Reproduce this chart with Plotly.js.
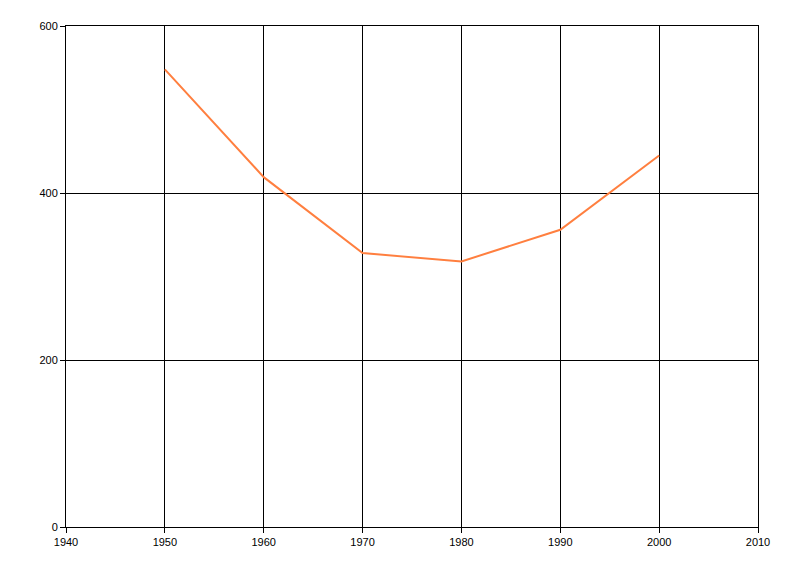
<!DOCTYPE html>
<html>
<head>
<meta charset="utf-8">
<script src="https://cdn.plot.ly/plotly-3.0.1.min.js"></script>
<style>html,body{margin:0;padding:0;background:#fff;}#chart{width:800px;height:576px;}</style>
</head>
<body>
<div id="chart"></div>
<script>
var years = [1950, 1960, 1970, 1980, 1990, 2000];
var values = [548, 419, 328, 318, 356, 445];
var xTicks = [1940, 1950, 1960, 1970, 1980, 1990, 2000, 2010];
var yTicks = [0, 200, 400, 600];

var trace = {
  x: years,
  y: values,
  type: 'scatter',
  mode: 'lines',
  line: {color: '#FF7F3F', width: 2},
  hoverinfo: 'x+y'
};

var layout = {
  width: 800,
  height: 576,
  margin: {l: 66, r: 42, t: 26, b: 49},
  paper_bgcolor: '#fff',
  plot_bgcolor: '#fff',
  showlegend: false,
  font: {family: 'Liberation Sans, Arial, sans-serif', size: 11, color: '#000'},
  xaxis: {
    range: [1940, 2010],
    tickvals: xTicks,
    ticktext: xTicks.map(String),
    showgrid: true,
    gridcolor: '#000',
    gridwidth: 1,
    showline: true,
    linecolor: '#000',
    linewidth: 1,
    mirror: true,
    ticks: 'outside',
    ticklen: 5,
    tickcolor: '#000',
    zeroline: false,
    fixedrange: true
  },
  yaxis: {
    range: [0, 600],
    tickvals: yTicks,
    ticktext: yTicks.map(String),
    showgrid: true,
    gridcolor: '#000',
    gridwidth: 1,
    showline: true,
    linecolor: '#000',
    linewidth: 1,
    mirror: true,
    ticks: 'outside',
    ticklen: 5,
    tickcolor: '#000',
    zeroline: false,
    fixedrange: true
  }
};

Plotly.newPlot('chart', [trace], layout, {displayModeBar: false, staticPlot: true});
</script>
</body>
</html>
